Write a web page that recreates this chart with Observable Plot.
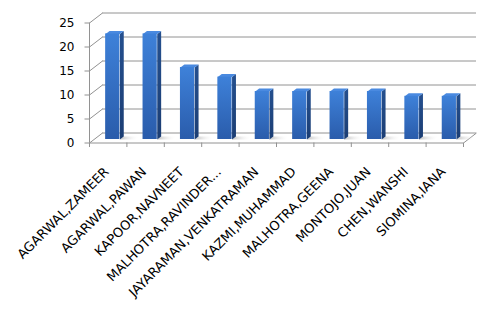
<!DOCTYPE html>
<html>
<head>
<meta charset="utf-8">
<script src="https://cdn.jsdelivr.net/npm/d3@7"></script>
<script src="https://cdn.jsdelivr.net/npm/@observablehq/plot@0.6"></script>
<style>
  html, body { margin: 0; padding: 0; background: #fff; }
</style>
</head>
<body>
<div id="chart"></div>
<script>
const names = ["AGARWAL,ZAMEER", "AGARWAL,PAWAN", "KAPOOR,NAVNEET", "MALHOTRA,RAVINDER...", "JAYARAMAN,VENKATRAMAN", "KAZMI,MUHAMMAD", "MALHOTRA,GEENA", "MONTOJO,JUAN", "CHEN,WANSHI", "SIOMINA,IANA"];
const values = [22, 22, 15, 13, 10, 10, 10, 10, 9, 9];
const yTicks = [0, 5, 10, 15, 20, 25];

// oblique depth projection (in data units of the linear scales)
const DX = 13 / 37.4;   // depth shift in band units
const DY = 10 / 4.8;    // depth shift in value units
const L = 0.31, R = 0.69, D0 = 0.35, D1 = 0.65;
const P = (u, v, d) => ({x: u + d * DX, y: v + d * DY});

const bars = names.map((name, i) => ({name, i, v: values[i]}));
const sidePts = bars.flatMap(b => [[R, 0, D0], [R, b.v, D0], [R, b.v, D1], [R, 0, D1]]
  .map(([u, v, d]) => ({id: b.i, ...P(b.i + u, v, d)})));
const topPts = bars.flatMap(b => [[L, D0], [R, D0], [R, D1], [L, D1]]
  .map(([u, d]) => ({id: b.i, ...P(b.i + u, b.v, d)})));
const shadowPts = bars.flatMap(b => [[R, D0], [R + 0.42, D0], [R + 0.42, D1], [R, D1]]
  .map(([u, d]) => ({id: b.i, ...P(b.i + u, 0, d)})));

const grid = "#929292";
const chart = Plot.plot({
  width: 500,
  height: 314,
  marginLeft: 89,
  marginRight: 37,
  marginTop: 22.5,
  marginBottom: 171.5,
  style: {fontFamily: "DejaVu Sans", fontSize: "12px", color: "black", background: "white"},
  x: {domain: [0, 10], axis: null},
  y: {domain: [0, 25], ticks: yTicks, tickSize: 0, tickPadding: 15, label: null},
  marks: [
    // back wall gridlines
    Plot.ruleY(yTicks, {y: t => t + DY, x1: DX, x2: 10 + DX, stroke: grid}),
    // side wall diagonals
    Plot.link(yTicks, {x1: 0, y1: t => t, x2: DX, y2: t => t + DY, stroke: grid}),
    // front vertical axis
    Plot.ruleX([0], {y1: 0, y2: 25, stroke: grid}),
    // y ticks
    Plot.link(yTicks, {x1: -5 / 37.4, x2: 0, y1: t => t, y2: t => t, stroke: grid}),
    // floor
    Plot.ruleY([0], {x1: 0, x2: 10, stroke: grid}),
    Plot.link([0], {x1: 10, y1: 0, x2: 10 + DX, y2: DY, stroke: grid}),
    Plot.ruleX(d3.range(11), {y1: 0, y2: -4.5 / 4.8, stroke: grid}),
    // floor shadows
    Plot.line(shadowPts, {x: "x", y: "y", z: "id", fill: "url(#gShadow)", stroke: "none", curve: "linear-closed"}),
    // bars
    Plot.line(sidePts, {x: "x", y: "y", z: "id", fill: "url(#gSide)", stroke: "none", curve: "linear-closed"}),
    Plot.line(topPts, {x: "x", y: "y", z: "id", fill: "#4a8ae0", stroke: "none", curve: "linear-closed"}),
    Plot.rect(bars, {x1: b => b.i + L + D0 * DX, x2: b => b.i + R + D0 * DX, y1: D0 * DY, y2: b => b.v + D0 * DY, fill: "url(#gFront)"}),
    // category labels
    Plot.text(bars, {x: b => b.i + 0.5, y: 0, text: "name", rotate: -45, textAnchor: "end", lineAnchor: "top", dx: -5, dy: 23, fontSize: 13, fontFamily: "DejaVu Sans", fill: "black"})
  ]
});

d3.select(chart).insert("defs", ":first-child").html(`
  <linearGradient id="gFront" x1="0" y1="0" x2="0" y2="1">
    <stop offset="0" stop-color="#3e81d9"/>
    <stop offset="1" stop-color="#2a5cab"/>
  </linearGradient>
  <linearGradient id="gSide" x1="0" y1="0" x2="0" y2="1">
    <stop offset="0" stop-color="#25508f"/>
    <stop offset="1" stop-color="#1b3d73"/>
  </linearGradient>
  <linearGradient id="gShadow" x1="0" y1="0" x2="1" y2="0">
    <stop offset="0" stop-color="#b8b8b8" stop-opacity="0.9"/>
    <stop offset="1" stop-color="#ffffff" stop-opacity="0"/>
  </linearGradient>
`);

document.getElementById("chart").appendChild(chart);
</script>
</body>
</html>
